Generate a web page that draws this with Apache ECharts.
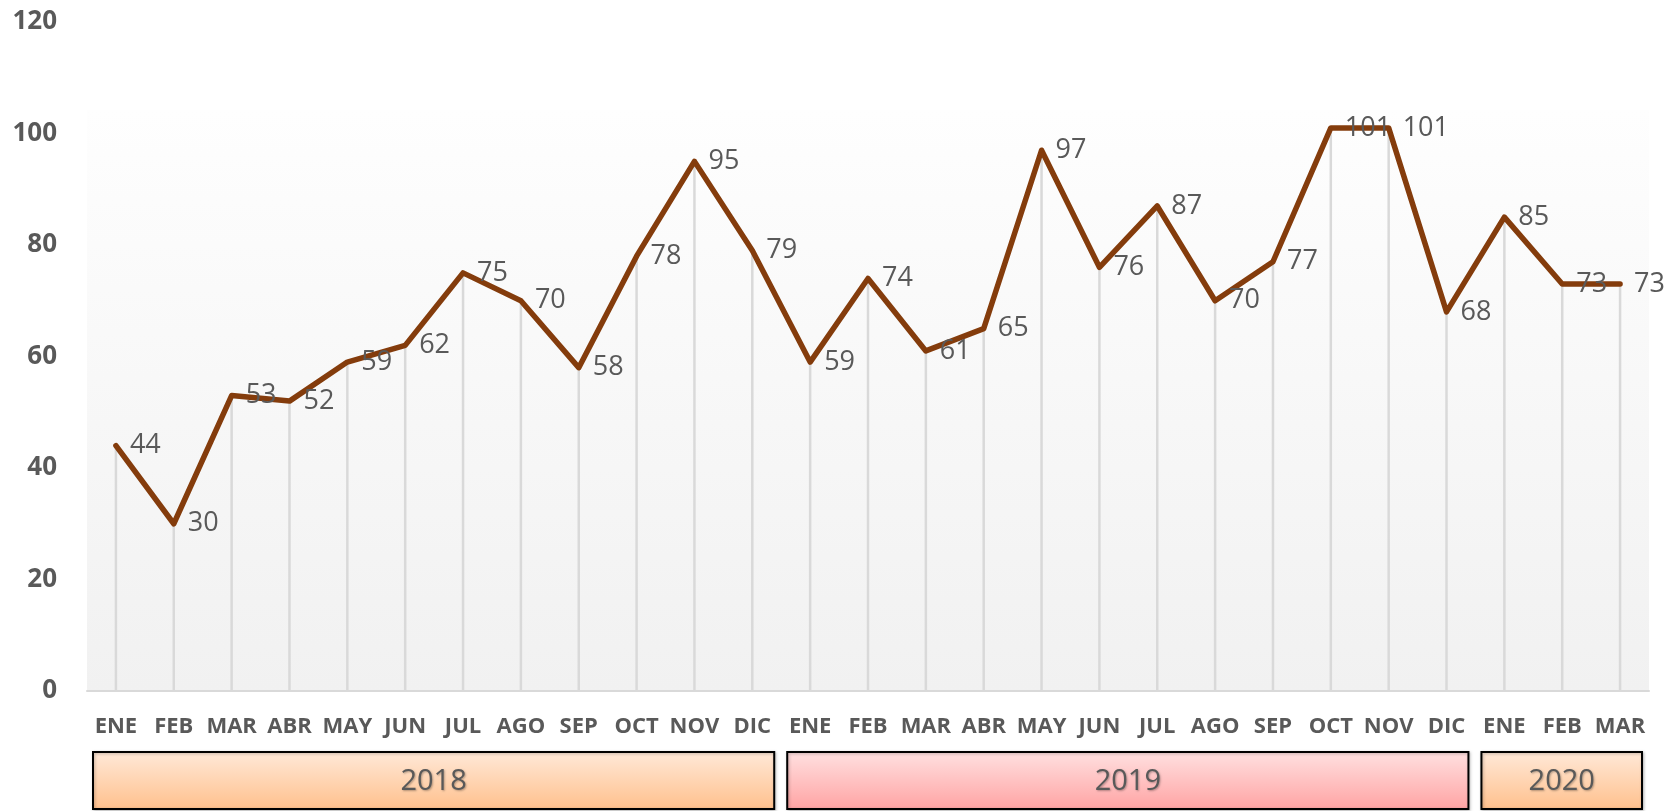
<!DOCTYPE html>
<html>
<head>
<meta charset="utf-8">
<script src="https://cdn.jsdelivr.net/npm/echarts@6/dist/echarts.min.js"></script>
<style>
  html, body { margin: 0; padding: 0; background: #fff; }
  #main { width: 1669px; height: 811px; }
</style>
</head>
<body>
<div id="main"></div>
<script>
// months per year
var months = ['ENE', 'FEB', 'MAR', 'ABR', 'MAY', 'JUN', 'JUL', 'AGO', 'SEP', 'OCT', 'NOV', 'DIC',
              'ENE', 'FEB', 'MAR', 'ABR', 'MAY', 'JUN', 'JUL', 'AGO', 'SEP', 'OCT', 'NOV', 'DIC',
              'ENE', 'FEB', 'MAR']
var values = [44, 30, 53, 52, 59, 62, 75, 70, 58, 78, 95, 79,
              59, 74, 61, 65, 97, 76, 87, 70, 77, 101, 101, 68,
              85, 73, 73]
var years = ['2018', '2019', '2020']
var yearSpans = [12, 12, 3]
var yearColors = [['#ffe9d9', '#ffc08c'], ['#ffe1e1', '#ffa3a3'], ['#ffe9d9', '#ffc08c']]
var yTicks = { min: 0, max: 120, interval: 20 }

var font = '"Open Sans", "Noto Sans", sans-serif'
var grey = '#595959'

var chart = echarts.init(document.getElementById('main'))

chart.setOption({
  animation: false,
  grid: { left: 87, right: 20, top: 22, bottom: 120, containLabel: false },
  xAxis: {
    type: 'category',
    data: months,
    boundaryGap: true,
    axisLine: { lineStyle: { color: '#d9d9d9', width: 2 } },
    axisTick: { show: false },
    axisLabel: {
      interval: 0,
      margin: 25,
      color: grey,
      fontFamily: font,
      fontWeight: 'bold',
      fontSize: 22
    }
  },
  yAxis: {
    type: 'value',
    min: yTicks.min,
    max: yTicks.max,
    interval: yTicks.interval,
    axisLine: { show: false },
    axisTick: { show: false },
    splitLine: { show: false },
    axisLabel: {
      margin: 30,
      color: grey,
      fontFamily: font,
      fontWeight: 'bold',
      fontSize: 26
    }
  },
  series: [
    {
      // vertical drop lines
      name: 'drop',
      type: 'bar',
      data: values,
      barWidth: 2.5,
      itemStyle: { color: '#d9d9d9' },
      silent: true,
      z: 2
    },
    {
      name: 'valor',
      type: 'line',
      data: values,
      symbol: 'circle',
      symbolSize: 4,
      itemStyle: { color: '#843c0c' },
      lineStyle: { color: '#843c0c', width: 5.5, join: 'round', cap: 'round' },
      label: {
        show: true,
        position: 'right',
        distance: 12,
        offset: [0, 3],
        color: grey,
        fontFamily: font,
        fontSize: 27
      },
      labelLayout: { hideOverlap: false },
      z: 3
    }
  ]
})

// plot background + year boxes, placed from the category scale
function drawExtras() {
  var x0 = chart.convertToPixel({ xAxisIndex: 0 }, 0)
  var x1 = chart.convertToPixel({ xAxisIndex: 0 }, 1)
  var band = x1 - x0
  var yZero = chart.convertToPixel({ yAxisIndex: 0 }, 0)
  var left = x0 - band / 2
  var right = chart.convertToPixel({ xAxisIndex: 0 }, months.length - 1) + band / 2

  var graphics = [{
    type: 'rect',
    shape: { x: left, y: 110, width: right - left, height: yZero - 110 },
    style: {
      fill: new echarts.graphic.LinearGradient(0, 0, 0, 1, [
        { offset: 0, color: '#fefefe' },
        { offset: 1, color: '#f1f1f1' }
      ])
    },
    z: -10,
    silent: true
  }]

  var start = 0
  years.forEach(function (y, i) {
    var a = chart.convertToPixel({ xAxisIndex: 0 }, start) - band / 2 + 6
    var b = chart.convertToPixel({ xAxisIndex: 0 }, start + yearSpans[i] - 1) + band / 2 - 7
    graphics.push({
      type: 'rect',
      shape: { x: a, y: 752, width: b - a, height: 57 },
      style: {
        fill: new echarts.graphic.LinearGradient(0, 0, 0, 1, [
          { offset: 0, color: yearColors[i][0] },
          { offset: 1, color: yearColors[i][1] }
        ]),
        stroke: '#000',
        lineWidth: 2,
        shadowColor: 'rgba(0,0,0,0.25)',
        shadowBlur: 3,
        shadowOffsetX: 1,
        shadowOffsetY: 1
      },
      silent: true
    })
    graphics.push({
      type: 'text',
      x: (a + b) / 2,
      y: 782,
      style: {
        text: y,
        align: 'center',
        verticalAlign: 'middle',
        fill: grey,
        font: '29px ' + font,
        textShadowColor: 'rgba(0,0,0,0.3)',
        textShadowBlur: 2,
        textShadowOffsetX: 1,
        textShadowOffsetY: 1
      },
      silent: true
    })
    start += yearSpans[i]
  })

  chart.setOption({ graphic: graphics })
}

drawExtras()
</script>
</body>
</html>
